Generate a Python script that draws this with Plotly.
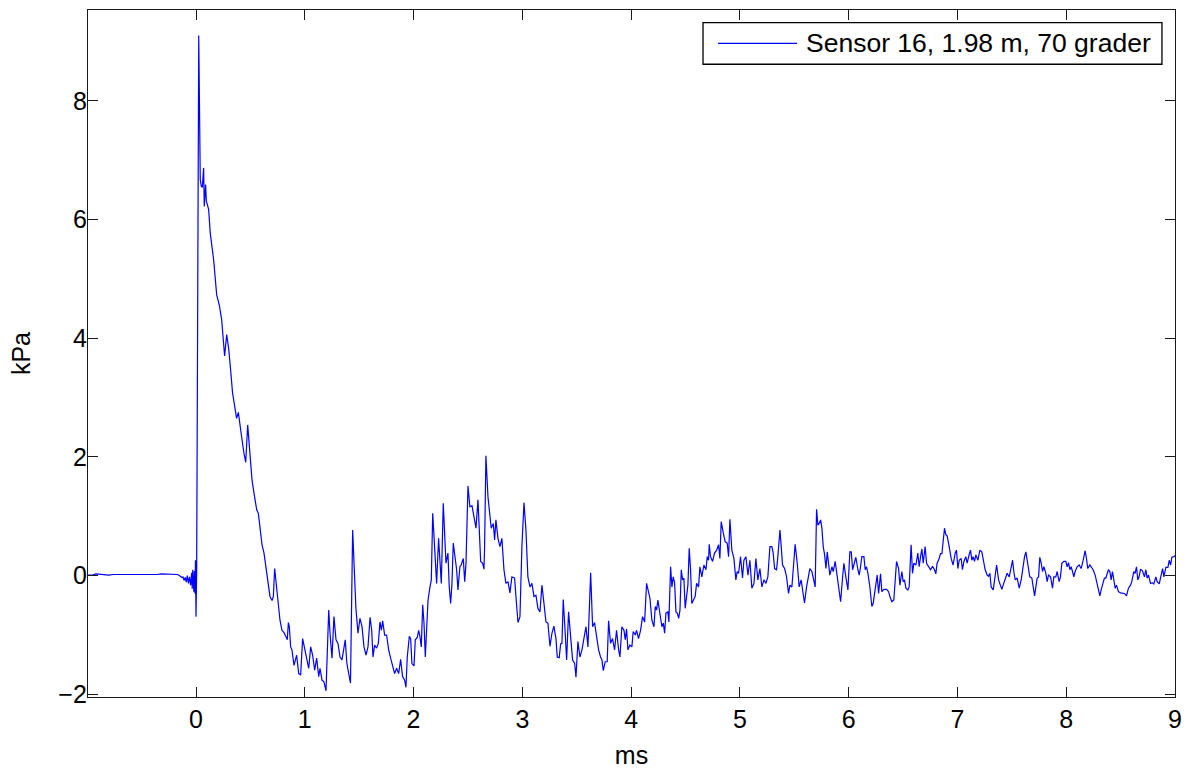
import plotly.graph_objects as go

# Pressure trace: time in ms, pressure in kPa
t_ms = [
    -0.993, -0.95, -0.92, -0.88, -0.85, -0.80, -0.76, -0.72, -0.68, -0.64,
    -0.60, -0.56, -0.52, -0.48, -0.44, -0.40, -0.36, -0.32, -0.28, -0.24,
    -0.20, -0.17, -0.15, -0.13, -0.12, -0.11, -0.10, -0.09, -0.08, -0.07,
    -0.06, -0.05, -0.04, -0.035, -0.03, -0.02, -0.015, -0.01, -0.005, 0.0,
    0.006, 0.014, 0.025, 0.039, 0.049, 0.058, 0.064, 0.070, 0.076, 0.083,
    0.088, 0.095, 0.116, 0.131, 0.162, 0.19, 0.214, 0.236, 0.251, 0.263,
    0.282, 0.30, 0.318, 0.336, 0.355, 0.373, 0.389, 0.404, 0.423, 0.441,
    0.457, 0.475, 0.496, 0.515, 0.533, 0.558, 0.573, 0.588, 0.607, 0.625,
    0.643, 0.662, 0.68, 0.699, 0.711, 0.723, 0.742, 0.757, 0.772, 0.79,
    0.809, 0.827, 0.839, 0.849, 0.858, 0.87, 0.882, 0.901, 0.913, 0.925,
    0.944, 0.962, 0.98, 0.999, 1.017, 1.036, 1.054, 1.072, 1.091, 1.109,
    1.128, 1.14, 1.158, 1.176, 1.195, 1.207, 1.22, 1.232, 1.25, 1.268,
    1.287, 1.305, 1.324, 1.342, 1.357, 1.372, 1.387, 1.404, 1.42, 1.44,
    1.452, 1.47, 1.489, 1.507, 1.526, 1.544, 1.563, 1.581, 1.60, 1.615,
    1.627, 1.642, 1.66, 1.676, 1.691, 1.704, 1.716, 1.734, 1.752, 1.771,
    1.789, 1.808, 1.826, 1.844, 1.863, 1.881, 1.899, 1.918, 1.93, 1.942,
    1.961, 1.973, 1.985, 2.004, 2.016, 2.034, 2.047, 2.059, 2.071, 2.084,
    2.096, 2.108, 2.121, 2.133, 2.151, 2.163, 2.176, 2.188, 2.20, 2.212,
    2.23, 2.243, 2.255, 2.273, 2.286, 2.298, 2.316, 2.328, 2.341, 2.353,
    2.365, 2.383, 2.396, 2.408, 2.426, 2.438, 2.457, 2.47, 2.482, 2.50,
    2.518, 2.537, 2.555, 2.574, 2.592, 2.604, 2.617, 2.635, 2.647, 2.653,
    2.665, 2.684, 2.696, 2.714, 2.733, 2.745, 2.757, 2.776, 2.794, 2.812,
    2.831, 2.849, 2.868, 2.886, 2.904, 2.929, 2.941, 2.96, 2.978, 2.996,
    3.015, 3.033, 3.051, 3.07, 3.088, 3.107, 3.125, 3.143, 3.162, 3.18,
    3.199, 3.217, 3.235, 3.254, 3.272, 3.29, 3.309, 3.321, 3.339, 3.352,
    3.364, 3.376, 3.395, 3.407, 3.425, 3.444, 3.462, 3.481, 3.493, 3.511,
    3.529, 3.548, 3.566, 3.585, 3.603, 3.615, 3.628, 3.646, 3.664, 3.683,
    3.701, 3.719, 3.732, 3.744, 3.762, 3.78, 3.793, 3.811, 3.829, 3.848,
    3.866, 3.885, 3.897, 3.915, 3.934, 3.946, 3.958, 3.971, 3.989, 4.007,
    4.019, 4.038, 4.05, 4.068, 4.087, 4.105, 4.124, 4.142, 4.16, 4.173,
    4.191, 4.21, 4.222, 4.234, 4.246, 4.265, 4.283, 4.296, 4.308, 4.32,
    4.338, 4.347, 4.363, 4.375, 4.387, 4.40, 4.412, 4.424, 4.437, 4.449,
    4.461, 4.473, 4.485, 4.497, 4.51, 4.522, 4.534, 4.546, 4.558, 4.577,
    4.589, 4.602, 4.62, 4.632, 4.65, 4.669, 4.688, 4.70, 4.712, 4.718,
    4.73, 4.749, 4.767, 4.786, 4.804, 4.816, 4.828, 4.847, 4.865, 4.883,
    4.896, 4.908, 4.926, 4.945, 4.963, 4.975, 4.988, 5.006, 5.024, 5.037,
    5.055, 5.074, 5.092, 5.11, 5.129, 5.147, 5.165, 5.184, 5.202, 5.221,
    5.239, 5.257, 5.276, 5.294, 5.306, 5.319, 5.337, 5.349, 5.368, 5.38,
    5.392, 5.411, 5.429, 5.447, 5.46, 5.478, 5.49, 5.508, 5.527, 5.545,
    5.563, 5.576, 5.594, 5.613, 5.625, 5.643, 5.662, 5.674, 5.692, 5.705,
    5.717, 5.729, 5.742, 5.754, 5.766, 5.779, 5.791, 5.803, 5.815, 5.827,
    5.846, 5.858, 5.876, 5.889, 5.907, 5.926, 5.944, 5.956, 5.974, 5.993,
    6.011, 6.024, 6.036, 6.054, 6.066, 6.085, 6.097, 6.109, 6.121, 6.14,
    6.152, 6.164, 6.177, 6.195, 6.213, 6.225, 6.244, 6.262, 6.275, 6.293,
    6.305, 6.324, 6.348, 6.367, 6.379, 6.397, 6.415, 6.428, 6.44, 6.459,
    6.471, 6.489, 6.501, 6.513, 6.526, 6.544, 6.556, 6.574, 6.587, 6.599,
    6.618, 6.636, 6.648, 6.661, 6.673, 6.685, 6.703, 6.716, 6.734, 6.753,
    6.771, 6.789, 6.801, 6.813, 6.832, 6.844, 6.857, 6.869, 6.881, 6.893,
    6.905, 6.924, 6.942, 6.96, 6.979, 6.991, 7.004, 7.016, 7.034, 7.046,
    7.059, 7.077, 7.089, 7.107, 7.12, 7.132, 7.144, 7.157, 7.169, 7.188,
    7.206, 7.224, 7.237, 7.255, 7.273, 7.286, 7.298, 7.31, 7.329, 7.342,
    7.36, 7.378, 7.39, 7.408, 7.42, 7.439, 7.457, 7.476, 7.488, 7.507,
    7.518, 7.531, 7.549, 7.568, 7.586, 7.604, 7.617, 7.629, 7.647, 7.665,
    7.684, 7.696, 7.709, 7.721, 7.733, 7.746, 7.757, 7.77, 7.782, 7.794,
    7.813, 7.825, 7.837, 7.856, 7.874, 7.886, 7.904, 7.917, 7.935, 7.947,
    7.96, 7.978, 7.996, 8.009, 8.021, 8.033, 8.045, 8.058, 8.07, 8.082,
    8.10, 8.119, 8.137, 8.156, 8.174, 8.186, 8.198, 8.217, 8.235, 8.247,
    8.266, 8.278, 8.296, 8.309, 8.321, 8.339, 8.351, 8.364, 8.376, 8.388,
    8.401, 8.413, 8.425, 8.437, 8.45, 8.462, 8.48, 8.499, 8.517, 8.535,
    8.554, 8.572, 8.591, 8.603, 8.621, 8.633, 8.646, 8.658, 8.67, 8.683,
    8.701, 8.719, 8.732, 8.744, 8.756, 8.775, 8.793, 8.805, 8.824, 8.836,
    8.855, 8.873, 8.886, 8.898, 8.916, 8.935, 8.947, 8.96, 8.971, 8.99,
    9.0,
]

p_kpa = [
    0.01, 0.01, 0.03, 0.02, 0.02, 0.01, 0.02, 0.02, 0.01, 0.02,
    0.01, 0.01, 0.02, 0.02, 0.01, 0.02, 0.02, 0.03, 0.03, 0.03,
    0.03, 0.02, 0.00, -0.03, -0.02, -0.08, -0.03, -0.11, 0.00, -0.13,
    -0.02, -0.16, 0.05, -0.22, 0.10, -0.27, 0.08, -0.30, 0.26, -0.69,
    0.10, 3.0, 9.10, 6.67, 6.56, 6.54, 6.84, 6.87, 6.22, 6.56,
    6.59, 6.31, 6.17, 5.77, 5.32, 4.73, 4.56, 4.31, 4.03, 3.70,
    4.06, 3.83, 3.47, 3.08, 2.86, 2.65, 2.75, 2.51, 2.29, 2.06,
    1.91, 2.54, 2.06, 1.61, 1.39, 1.11, 1.05, 0.83, 0.52, 0.38,
    0.15, -0.10, -0.35, -0.42, -0.35, 0.12, -0.19, -0.52, -0.75, -0.92,
    -0.96, -1.03, -1.08, -0.79, -0.86, -1.20, -1.25, -1.51, -1.39, -1.34,
    -1.65, -1.67, -1.06, -1.22, -1.42, -1.56, -1.20, -1.34, -1.59, -1.39,
    -1.70, -1.56, -1.76, -1.79, -1.94, -1.31, -0.58, -0.97, -1.39, -0.69,
    -1.08, -1.14, -1.37, -1.42, -1.20, -1.08, -1.48, -1.65, -1.81, 0.77,
    0.21, -0.55, -0.97, -0.72, -0.86, -1.20, -1.34, -1.20, -0.70, -0.92,
    -1.37, -1.17, -1.22, -1.14, -0.78, -0.92, -0.76, -1.00, -1.00, -1.25,
    -1.39, -1.51, -1.65, -1.56, -1.65, -1.41, -1.70, -1.76, -1.88, -1.37,
    -1.02, -1.06, -1.48, -1.52, -1.08, -1.04, -0.92, -1.03, -1.20, -0.49,
    -0.80, -1.37, -0.92, -0.41, -0.19, -0.07, 1.05, 0.66, 0.10, -0.13,
    0.63, 0.21, -0.13, 1.22, 0.66, 0.21, 0.38, -0.19, -0.47, -0.13,
    0.55, 0.32, 0.10, -0.24, 0.15, 0.18, 0.29, -0.10, 0.21, 1.51,
    1.16, 1.18, 0.99, 0.80, 1.28, 0.71, 0.24, 0.21, 0.11, 0.49,
    2.02, 1.33, 1.11, 0.80, 0.88, 0.60, 0.94, 0.63, 0.49, 0.63,
    0.10, -0.13, -0.10, -0.29, -0.02, -0.04, -0.35, -0.79, -0.69, 0.49,
    1.23, 0.77, -0.02, -0.19, -0.13, -0.35, -0.33, -0.55, -0.61, -0.16,
    -0.47, -0.78, -0.80, -1.19, -0.97, -0.85, -1.06, -1.37, -1.38, -1.15,
    -1.14, -0.40, -1.00, -1.42, -0.61, -0.97, -1.42, -1.48, -1.71, -1.11,
    -1.37, -1.25, -1.08, -0.86, -1.20, -0.58, 0.05, -0.86, -0.79, -1.03,
    -1.25, -1.37, -1.42, -1.60, -1.45, -1.45, -0.76, -1.14, -1.06, -1.25,
    -0.92, -1.25, -1.37, -0.86, -0.92, -1.08, -0.90, -1.25, -1.17, -1.20,
    -0.94, -1.00, -0.92, -1.06, -0.92, -0.69, -0.78, -0.13, -0.30, -0.38,
    -0.75, -0.86, -0.52, -0.58, -0.41, -0.63, -0.86, -0.80, -0.97, -0.63,
    -0.61, -0.78, 0.15, -0.19, -0.02, -0.13, -0.61, -0.63, -0.72, -0.58,
    0.10, -0.07, -0.04, -0.55, -0.38, -0.16, 0.46, 0.12, -0.47, -0.38,
    -0.35, -0.13, -0.19, 0.15, -0.02, 0.18, 0.10, 0.32, 0.26, 0.53,
    0.32, 0.24, 0.38, 0.43, 0.52, 0.29, 0.91, 0.72, 0.57, 0.55,
    0.32, 0.95, 0.43, 0.29, -0.07, 0.07, 0.04, 0.32, -0.04, 0.26,
    0.32, 0.01, 0.26, -0.21, -0.13, 0.29, -0.07, 0.12, -0.19, -0.07,
    -0.13, -0.02, 0.49, 0.49, 0.38, 0.12, 0.10, 0.32, 0.77, 0.49,
    0.18, 0.12, -0.02, -0.30, -0.16, -0.19, 0.15, 0.53, 0.21, -0.19,
    -0.07, -0.21, -0.46, -0.19, -0.07, 0.12, 0.07, -0.04, -0.19, 1.12,
    0.85, 0.88, 0.94, 0.80, 0.49, 0.35, 0.12, 0.40, 0.21, 0.01,
    0.15, 0.07, 0.24, 0.04, -0.19, -0.44, -0.03, 0.21, -0.02, -0.24,
    0.40, 0.40, 0.10, 0.21, 0.31, 0.10, 0.01, 0.15, 0.32, 0.32,
    0.10, 0.15, 0.04, -0.19, -0.52, -0.47, -0.19, 0.01, -0.30, 0.03,
    -0.27, -0.23, -0.23, -0.27, -0.35, -0.44, -0.41, -0.02, 0.24, 0.12,
    -0.16, 0.07, -0.10, -0.07, -0.21, -0.24, -0.19, 0.52, 0.04, 0.21,
    0.18, 0.38, 0.15, 0.32, 0.45, 0.21, 0.49, 0.21, 0.15, 0.10,
    0.16, 0.10, 0.03, 0.21, 0.29, 0.37, 0.37, 0.63, 0.80, 0.69,
    0.67, 0.49, 0.29, 0.18, 0.38, 0.43, 0.12, 0.26, 0.29, 0.10,
    0.24, 0.32, 0.21, 0.35, 0.43, 0.26, 0.32, 0.24, 0.35, 0.26,
    0.43, 0.40, 0.29, 0.10, 0.01, -0.01, 0.04, -0.19, -0.24, -0.04,
    0.18, -0.07, -0.13, -0.23, -0.16, -0.04, 0.04, -0.02, 0.10, 0.26,
    0.07, -0.07, -0.04, -0.21, -0.07, 0.18, 0.32, 0.40, 0.21, -0.02,
    -0.04, -0.19, -0.34, -0.19, -0.04, -0.02, 0.31, 0.21, 0.07, 0.15,
    0.04, -0.10, 0.01, -0.02, -0.21, -0.02, -0.02, 0.07, -0.10, -0.02,
    0.21, 0.24, 0.24, 0.15, 0.22, 0.10, 0.15, 0.07, -0.02, 0.07,
    0.15, 0.18, 0.12, 0.26, 0.42, 0.29, 0.12, 0.18, 0.12, 0.10,
    0.01, -0.10, -0.24, -0.34, -0.24, -0.13, -0.04, -0.04, 0.04, 0.10,
    0.07, -0.07, 0.07, -0.07, -0.21, -0.16, -0.27, -0.29, -0.29, -0.30,
    -0.34, -0.21, -0.16, -0.10, 0.07, 0.04, 0.15, -0.07, -0.02, 0.11,
    0.08, -0.02, 0.10, -0.04, 0.01, -0.13, -0.12, -0.14, -0.02, -0.10,
    -0.14, 0.04, 0.12, -0.02, 0.14, 0.14, 0.26, 0.18, 0.31, 0.32,
    0.34,
]

series_name = "Sensor 16, 1.98 m, 70 grader"
x_ticks = [0, 1, 2, 3, 4, 5, 6, 7, 8, 9]
y_ticks = [-2, 0, 2, 4, 6, 8]

FONT = "Liberation Sans, Arial, Helvetica, sans-serif"
AXIS_COLOR = "#1a1a1a"

fig = go.Figure()
fig.add_trace(go.Scatter(
    x=t_ms, y=p_kpa, mode="lines", name=series_name,
    line=dict(color="#0000ff", width=1.2), showlegend=False,
))

axis_common = dict(
    showgrid=False, zeroline=False, showline=True, linecolor=AXIS_COLOR,
    linewidth=1.3, mirror="ticks", ticks="inside", ticklen=10,
    tickwidth=1.3, tickcolor=AXIS_COLOR, automargin=False,
    tickfont=dict(family=FONT, size=25, color="#000000"),
)

fig.update_xaxes(
    range=[-0.993, 9.0], tickvals=x_ticks, **axis_common,
    title=dict(text="ms", font=dict(family=FONT, size=25, color="#000000"),
               standoff=14),
)
fig.update_yaxes(
    range=[-2.044, 9.53], tickvals=y_ticks, ticklabelstandoff=-5,
    **axis_common,
    title=dict(text="kPa", font=dict(family=FONT, size=25, color="#000000"),
               standoff=20),
)

# Boxed legend entry in the upper right corner of the axes
fig.add_shape(type="rect", xref="paper", yref="paper",
              x0=0.5658, x1=0.988, y0=0.921, y1=0.9815,
              line=dict(color="#000000", width=1.3), fillcolor="#ffffff")
fig.add_shape(type="line", xref="paper", yref="paper",
              x0=0.5796, x1=0.6523, y0=0.9515, y1=0.9515,
              line=dict(color="#0000ff", width=1.2))
fig.add_annotation(xref="paper", yref="paper", x=0.6585, y=0.9515,
                   xanchor="left", yanchor="middle", showarrow=False,
                   text=series_name,
                   font=dict(family=FONT, size=26.5, color="#000000"))

fig.update_layout(
    width=1190, height=769,
    margin=dict(l=88, r=15, t=10, b=72),
    paper_bgcolor="#ffffff", plot_bgcolor="#ffffff",
    showlegend=False,
)

fig.write_html("out.html")
